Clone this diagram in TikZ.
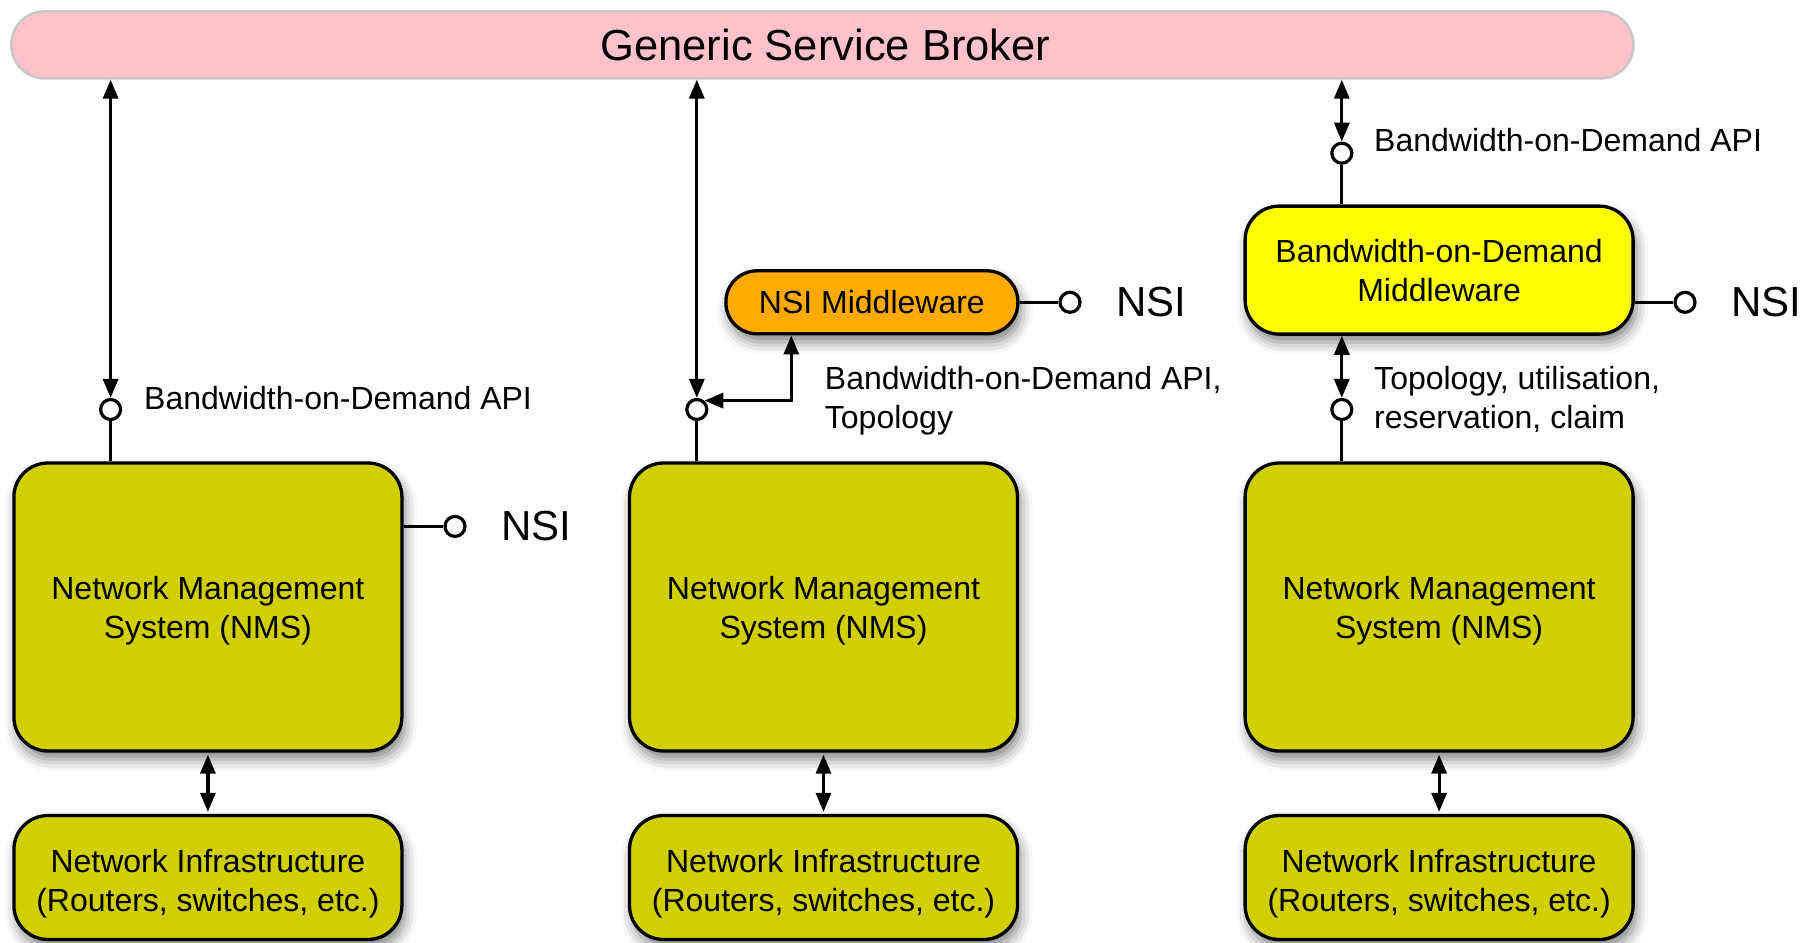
\documentclass[tikz,border=0pt]{standalone}
\usepackage{fontspec}
\setmainfont{Liberation Sans}
\usetikzlibrary{arrows.meta,shadows.blur,calc}

\definecolor{brokerpink}{RGB}{255,194,203}
\definecolor{brokeredge}{RGB}{200,200,200}
\definecolor{nmsolive}{RGB}{208,208,0}
\definecolor{bodyellow}{RGB}{255,255,0}
\definecolor{nsiorange}{RGB}{255,170,0}

\tikzset{
  x=1pt, y=-1pt,
  wire/.style={line width=3.2pt},
  dbl/.style={wire, {Triangle[length=19pt,width=15pt]}-{Triangle[length=19pt,width=15pt]}},
  boxshadow/.style={blur shadow={shadow xshift=3pt, shadow yshift=-8pt,
      shadow blur radius=12pt, shadow opacity=50}},
  box/.style={draw, line width=3.3pt, rounded corners=34pt, inner sep=0pt,
      align=center, font=\fontsize{32}{39}\selectfont, boxshadow},
  boxtext/.style={font=\fontsize{32}{39}\selectfont, align=center, inner sep=0pt},
  nmsbox/.style={box, fill=nmsolive, minimum width=388pt, minimum height=288pt,
      label={[boxtext, yshift=-4pt]center:{Network Management\\System (NMS)}}},
  infbox/.style={box, fill=nmsolive, minimum width=388pt, minimum height=124pt,
      label={[boxtext, yshift=-6pt]center:{Network Infrastructure\\(Routers, switches, etc.)}}},
  port/.style={circle, draw, fill=white, line width=3.2pt, minimum size=20pt, inner sep=0pt},
  small/.style={font=\fontsize{32}{39}\selectfont, inner sep=0pt, align=left, anchor=west},
  big/.style={font=\fontsize{42}{50}\selectfont, inner sep=0pt, anchor=west},
}

\begin{document}
\begin{tikzpicture}
\useasboundingbox (0,0) rectangle (1806,942);

% broker bar
\node[draw=brokeredge, line width=2.5pt, fill=brokerpink, rounded corners=33pt,
      minimum width=1622pt, minimum height=67pt, inner sep=0pt,
      label={[font=\fontsize{43.5}{50}\selectfont, inner sep=0pt, xshift=3pt]center:Generic Service Broker}]
  (broker) at (822.4,44.9) {};

% management systems and infrastructure
\node[nmsbox] (nms1) at (207.9,607) {};
\node[nmsbox] (nms2) at (823.5,607) {};
\node[nmsbox] (nms3) at (1439.1,607) {};
\node[infbox] (inf1) at (207.9,877.5) {};
\node[infbox] (inf2) at (823.5,877.5) {};
\node[infbox] (inf3) at (1439.1,877.5) {};

% middleware
\node[box, fill=nsiorange, rounded corners=31pt, minimum width=292pt, minimum height=63pt]
  (nsim) at (871.9,302.3) {NSI Middleware};
\node[box, fill=bodyellow, minimum width=388pt, minimum height=128pt]
  (bodm) at (1439.1,270.1) {Bandwidth-on-Demand\\Middleware};

% interface ports
\node[port] (p1) at (110.6,409.5) {};
\node[port] (p2) at (696.8,409.5) {};
\node[port] (p3t) at (1341.8,153.2) {};
\node[port] (p3b) at (1341.8,409.5) {};
\node[port] (n1) at (455,526.4) {};
\node[port] (n2) at (1070,302.3) {};
\node[port] (n3) at (1685,302.3) {};

% labels
\node[small] (l1) at (144,398.5) {Bandwidth-on-Demand API};
\node[small] (l2) at (824.7,400.5) {Bandwidth-on-Demand API,\\Topology};
\node[small] (l3) at (1374,140.5) {Bandwidth-on-Demand API};
\node[small] (l4) at (1374,399) {Topology, utilisation,\\reservation, claim};
\node[big] (s1) at (501,526.4) {NSI};
\node[big] (s2) at (1116,302.3) {NSI};
\node[big] (s3) at (1731,302.3) {NSI};

% column 1
\draw[dbl] (broker.south -| p1) -- (p1.north);
\draw[wire] (p1.south) -- (p1 |- nms1.north);
\draw[wire] (nms1.east |- n1) -- (n1.west);
\draw[dbl, shorten <=2pt, shorten >=2pt] (nms1.south) -- (inf1.north);

% column 2
\coordinate (elbow) at (791.3,0);
\draw[dbl] (broker.south -| p2) -- (p2.north);
\draw[wire] (p2.south) -- (p2 |- nms2.north);
\draw[dbl] (p2.50) -| (elbow |- nsim.south);
\draw[wire] (nsim.east) -- (n2.west);
\draw[dbl, shorten <=2pt, shorten >=2pt] (nms2.south) -- (inf2.north);

% column 3
\draw[dbl] (broker.south -| p3t) -- (p3t.north);
\draw[wire] (p3t.south) -- (p3t |- bodm.north);
\draw[dbl] (bodm.south -| p3b) -- (p3b.north);
\draw[wire] (p3b.south) -- (p3b |- nms3.north);
\draw[wire] (bodm.east |- n3) -- (n3.west);
\draw[dbl, shorten <=2pt, shorten >=2pt] (nms3.south) -- (inf3.north);
\end{tikzpicture}
\end{document}
